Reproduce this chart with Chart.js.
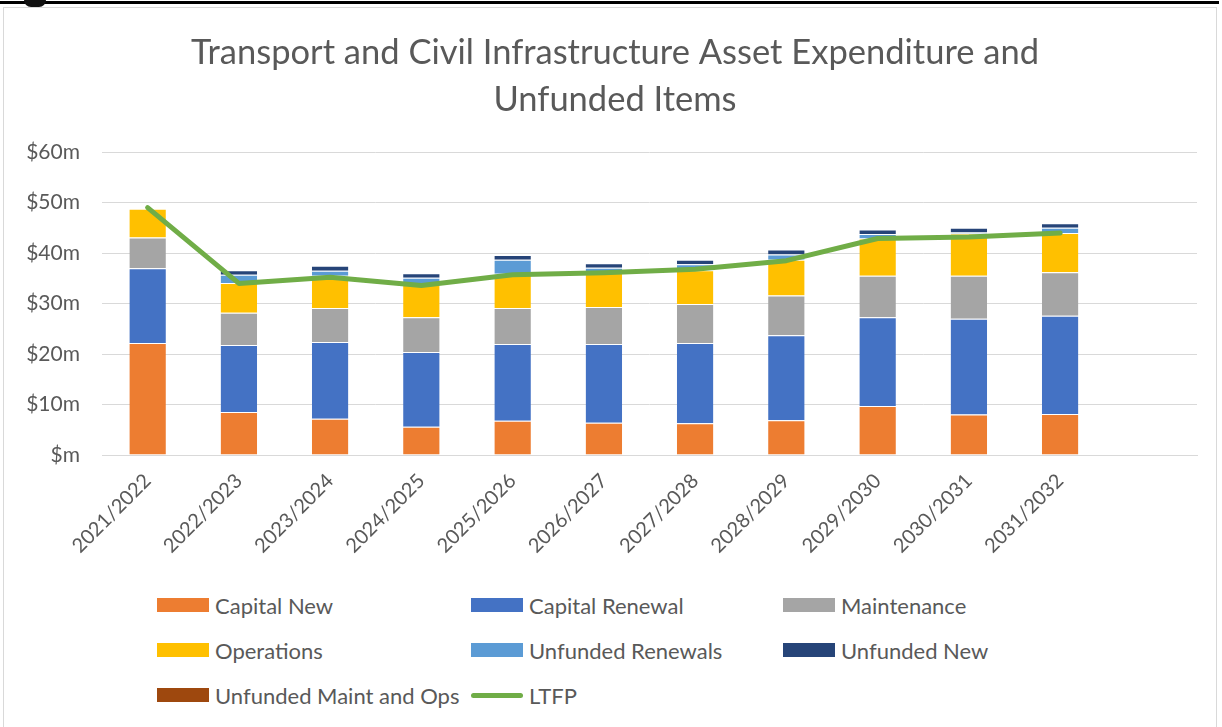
<!DOCTYPE html>
<html>
<head>
<meta charset="utf-8">
<script src="https://cdn.jsdelivr.net/npm/chart.js@4/dist/chart.umd.min.js"></script>
<style>
  html, body { margin:0; padding:0; background:#fff; }
  body { width:1222px; height:727px; position:relative; overflow:hidden; font-family: Lato, "Open Sans", sans-serif; }
  #frame { position:absolute; left:3px; top:7px; width:1214px; height:740px; border:1px solid #d9d9d9; box-sizing:border-box; }
  #topline { position:absolute; left:0; top:1px; width:1219px; height:3px; background:#000; }
  #blob { position:absolute; left:24px; top:0; width:22px; height:7px; background:#111; border-radius:0 0 11px 11px; }
  #wrap { position:absolute; left:0; top:0; width:1230px; height:590px; }
  #legend { position:absolute; left:157px; top:594px; display:grid; grid-template-columns: 314px 312px 320px; row-gap:23px; color:#595959; font-size:22px; }
  .item { display:flex; align-items:center; height:22px; white-space:nowrap; }
  .box { width:52px; height:14px; margin-right:6px; }
  .ln { width:52px; height:5px; border-radius:3px; margin-right:6px; }
</style>
</head>
<body>
<div id="frame"></div>
<div id="topline"></div>
<div id="blob"></div>
<div id="wrap"><canvas id="c" width="1230" height="590"></canvas></div>
<div id="legend"></div>
<script>
const titleLines = ['Transport and Civil Infrastructure Asset Expenditure and', 'Unfunded Items'];
const categories = ['2021/2022','2022/2023','2023/2024','2024/2025','2025/2026','2026/2027','2027/2028','2028/2029','2029/2030','2030/2031','2031/2032',''];
const capitalNew       = [22.2, 8.5, 7.2, 5.6, 6.8, 6.4, 6.3, 6.9, 9.7, 8.0, 8.1, null];
const capitalRenewal   = [14.8, 13.3, 15.2, 14.8, 15.2, 15.6, 15.9, 16.8, 17.6, 19.0, 19.5, null];
const maintenance      = [6.1, 6.4, 6.7, 6.9, 7.1, 7.3, 7.7, 7.9, 8.2, 8.5, 8.6, null];
const operations       = [5.7, 5.9, 6.4, 6.5, 6.8, 6.9, 6.7, 7.1, 7.4, 8.4, 7.8, null];
const unfundedRenewals = [0, 1.6, 1.0, 1.3, 2.8, 0.9, 1.2, 1.0, 0.9, 0.2, 1.0, null];
const unfundedNew      = [0, 0.9, 1.0, 0.9, 0.9, 0.9, 0.9, 1.0, 0.9, 0.9, 0.9, null];
const unfundedMaintOps = [0, 0, 0, 0, 0, 0, 0, 0, 0, 0, 0, null];
const ltfp             = [49.0, 34.0, 35.2, 33.6, 35.7, 36.1, 36.8, 38.5, 42.9, 43.2, 44.0, null];
const yTicks = [0, 10, 20, 30, 40, 50, 60];

const txt = '#595959';
const FONT = 'Lato, "Open Sans", sans-serif';
function bar(label, data, color) {
  return { type:'bar', label, data, backgroundColor:color, borderColor:'rgba(255,255,255,0.7)', borderWidth:{top:1,bottom:0,left:0,right:0}, borderSkipped:false, barPercentage:0.4, categoryPercentage:1.0 };
}
const datasets = [
  bar('Capital New', capitalNew, '#ed7d31'),
  bar('Capital Renewal', capitalRenewal, '#4472c4'),
  bar('Maintenance', maintenance, '#a5a5a5'),
  bar('Operations', operations, '#ffc000'),
  bar('Unfunded Renewals', unfundedRenewals, '#5b9bd5'),
  bar('Unfunded New', unfundedNew, '#264478'),
  bar('Unfunded Maint and Ops', unfundedMaintOps, '#9e480e'),
  { type:'line', label:'LTFP', data:ltfp, borderColor:'#70ad47', backgroundColor:'#70ad47', borderWidth:5, pointRadius:0, tension:0, order:-1, borderCapStyle:'round', borderJoinStyle:'round' }
];

const chart = new Chart(document.getElementById('c'), {
  data: { labels: categories, datasets },
  options: {
    responsive:false, animation:false,
    layout: { padding: { left:0, right:0, top:0, bottom:0 } },
    plugins: {
      legend: { display:false },
      tooltip: { enabled:false },
      title: { display:true, text:titleLines, color:txt, font:{ family:FONT, size:34.5, weight:'normal', lineHeight:1.35 }, padding:{ top:30, bottom:29 } }
    },
    scales: {
      x: {
        stacked:true,
        grid:{ display:false },
        border:{ display:true, color:'#d9d9d9', width:1 },
        ticks:{ color:txt, font:{ family:FONT, size:20 }, minRotation:45, maxRotation:45, autoSkip:false, padding:6 },
        afterFit: s => { s.height = 135; }
      },
      y: {
        stacked:true, min:0, max:60,
        afterBuildTicks: s => { s.ticks = yTicks.map(v => ({ value:v })); },
        grid:{ color:'#d9d9d9', lineWidth:1, drawTicks:false },
        border:{ display:false },
        ticks:{ color:txt, font:{ family:FONT, size:21 }, padding:22, callback: v => v === 0 ? '$m' : '$' + v + 'm' },
        afterFit: s => { s.width = 102; }
      },
      // empty right-hand spacer so the title centres like the original
      ySpace: {
        type:'linear', position:'right', display:true,
        grid:{ display:false }, border:{ display:false }, ticks:{ display:false },
        afterFit: s => { s.width = 33; }
      }
    }
  }
});

// HTML legend generated from chart datasets (in original legend order)
const lg = document.getElementById('legend');
chart.data.datasets.forEach(ds => {
  const it = document.createElement('div'); it.className = 'item';
  const sw = document.createElement('span');
  sw.className = ds.type === 'line' ? 'ln' : 'box';
  sw.style.background = ds.backgroundColor;
  const t = document.createElement('span'); t.textContent = ds.label;
  it.appendChild(sw); it.appendChild(t); lg.appendChild(it);
});
</script>
</body>
</html>
